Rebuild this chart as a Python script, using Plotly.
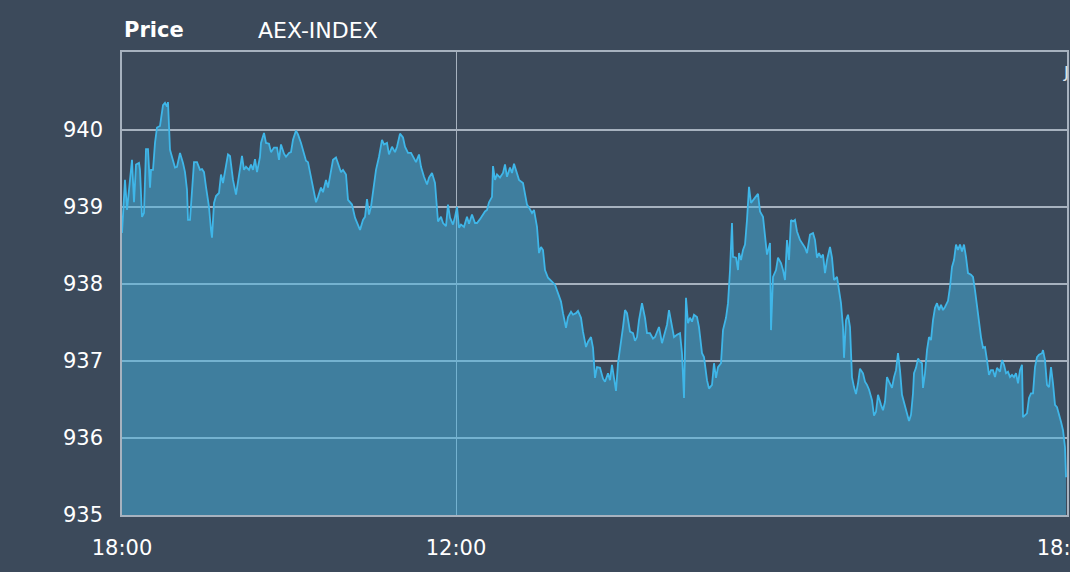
import plotly.graph_objects as go

# sample positions along the time axis (session units) and AEX-INDEX prices
t = [0, 2, 3, 5, 8, 10, 12, 14, 17, 18, 20, 22, 24, 26, 28, 29, 31, 33, 35, 38, 41, 43, 45, 46,
     48, 51, 53, 55, 58, 61, 63, 65, 66, 68, 70, 72, 75, 78, 80, 82, 84, 87, 89, 90, 92, 94, 97,
     99, 101, 103, 106, 108, 111, 114, 117, 120, 122, 124, 127, 129, 131, 133, 135, 138, 139, 142,
     144, 147, 149, 152, 155, 157, 159, 162, 164, 167, 169, 171, 174, 176, 179, 181, 184, 186, 189,
     191, 194, 196, 199, 201, 204, 206, 209, 211, 214, 216, 219, 221, 224, 226, 230, 233, 235, 238,
     241, 243, 245, 247, 249, 251, 254, 257, 260, 262, 265, 267, 270, 273, 275, 278, 281, 283, 286,
     289, 291, 294, 297, 299, 302, 305, 307, 310, 313, 315, 316, 319, 321, 324, 326, 328, 331, 333,
     335, 337, 339, 342, 345, 347, 350, 353, 355, 358, 361, 363, 365, 367, 370, 371, 373, 375, 378,
     381, 383, 385, 388, 390, 392, 395, 397, 401, 403, 405, 407, 410, 412, 415, 417, 419, 421, 423,
     426, 430, 433, 436, 439, 441, 444, 446, 449, 451, 454, 456, 459, 461, 464, 466, 469, 471, 473,
     475, 478, 481, 483, 486, 488, 490, 492, 494, 496, 498, 501, 503, 505, 508, 511, 513, 515, 517,
     520, 523, 525, 528, 531, 533, 535, 537, 540, 542, 545, 547, 550, 552, 555, 558, 560, 562, 564,
     566, 568, 570, 572, 575, 577, 580, 582, 585, 587, 590, 592, 594, 596, 599, 601, 604, 606, 608,
     610, 611, 614, 616, 617, 619, 621, 623, 625, 627, 629, 631, 633, 636, 638, 641, 643, 645, 648,
     649, 651, 654, 656, 659, 661, 663, 665, 667, 669, 671, 673, 675, 678, 681, 683, 685, 688, 691,
     693, 695, 697, 699, 701, 703, 705, 708, 710, 712, 715, 717, 719, 721, 722, 724, 726, 728, 730,
     732, 734, 736, 738, 741, 743, 745, 747, 750, 752, 754, 756, 759, 761, 763, 765, 767, 770, 772,
     774, 776, 778, 780, 782, 785, 787, 789, 791, 792, 794, 796, 798, 800, 801, 803, 805, 807, 809,
     811, 813, 815, 817, 819, 821, 823, 826, 828, 830, 832, 834, 836, 838, 840, 842, 844, 846, 849,
     851, 853, 855, 857, 859, 861, 863, 865, 867, 869, 871, 873, 875, 878, 880, 882, 884, 886, 888,
     890, 892, 894, 896, 898, 900, 901, 903, 905, 907, 909, 911, 913, 915, 917, 920, 921, 923, 925,
     927, 929, 931, 933, 935, 937, 939, 941, 943, 944]

price = [938.66, 939.13, 939.35, 938.96, 939.39, 939.61, 939.06, 939.55, 939.57, 939.48, 938.87,
         938.92, 939.75, 939.75, 939.25, 939.48, 939.48, 939.83, 940.03, 940.05, 940.32, 940.35,
         940.30, 940.36, 939.74, 939.61, 939.51, 939.52, 939.70, 939.57, 939.45, 939.22, 938.83,
         938.83, 939.22, 939.58, 939.58, 939.48, 939.49, 939.45, 939.26, 939.00, 938.70, 938.60,
         939.05, 939.14, 939.18, 939.42, 939.31, 939.44, 939.68, 939.66, 939.35, 939.16, 939.39,
         939.66, 939.48, 939.52, 939.48, 939.55, 939.48, 939.62, 939.45, 939.65, 939.83, 939.96,
         939.83, 939.82, 939.71, 939.77, 939.77, 939.61, 939.81, 939.69, 939.65, 939.70, 939.71,
         939.87, 939.99, 939.94, 939.83, 939.75, 939.60, 939.58, 939.38, 939.22, 939.06, 939.13,
         939.25, 939.19, 939.35, 939.25, 939.44, 939.61, 939.64, 939.57, 939.45, 939.48, 939.42,
         939.09, 939.03, 938.86, 938.79, 938.70, 938.83, 938.87, 939.10, 938.90, 939.00, 939.18,
         939.48, 939.65, 939.87, 939.81, 939.83, 939.68, 939.78, 939.71, 939.78, 939.95, 939.90,
         939.78, 939.70, 939.70, 939.65, 939.58, 939.68, 939.52, 939.39, 939.29, 939.38, 939.44,
         939.31, 939.00, 938.81, 938.87, 938.79, 938.75, 939.03, 938.86, 938.77, 938.87, 939.00,
         938.73, 938.77, 938.74, 938.87, 938.78, 938.90, 938.79, 938.79, 938.84, 938.90, 938.94,
         938.96, 939.06, 939.13, 939.53, 939.35, 939.42, 939.38, 939.44, 939.55, 939.39, 939.51,
         939.44, 939.56, 939.44, 939.35, 939.31, 939.19, 939.03, 938.99, 938.92, 938.96, 938.74,
         938.40, 938.48, 938.44, 938.18, 938.08, 938.03, 937.99, 937.88, 937.77, 937.62, 937.43,
         937.57, 937.64, 937.60, 937.62, 937.65, 937.56, 937.38, 937.18, 937.25, 937.31, 937.17,
         936.78, 936.92, 936.91, 936.77, 936.73, 936.84, 936.75, 936.95, 936.75, 936.61, 936.97,
         937.14, 937.44, 937.66, 937.62, 937.38, 937.36, 937.26, 937.31, 937.53, 937.75, 937.56,
         937.36, 937.36, 937.29, 937.31, 937.38, 937.44, 937.23, 937.34, 937.47, 937.66, 937.47,
         937.31, 937.34, 937.36, 937.10, 936.52, 937.82, 937.49, 937.56, 937.51, 937.60, 937.57,
         937.44, 937.10, 937.05, 936.75, 936.64, 936.69, 936.97, 936.78, 936.92, 936.97, 937.40,
         937.56, 937.75, 938.18, 938.79, 938.35, 938.34, 938.18, 938.40, 938.31, 938.44, 938.51,
         938.83, 939.26, 939.05, 939.09, 939.12, 939.17, 938.94, 938.87, 938.66, 938.38, 938.53,
         937.40, 938.09, 938.18, 938.34, 938.27, 938.18, 938.05, 938.57, 938.31, 938.83, 938.81,
         938.83, 938.68, 938.57, 938.51, 938.47, 938.40, 938.64, 938.66, 938.57, 938.34, 938.40,
         938.34, 938.38, 938.14, 938.31, 938.48, 938.34, 938.05, 938.09, 937.92, 937.75, 937.44,
         937.04, 937.53, 937.60, 937.44, 936.79, 936.66, 936.57, 936.71, 936.90, 936.84, 936.73,
         936.69, 936.63, 936.49, 936.29, 936.34, 936.56, 936.43, 936.36, 936.47, 936.79, 936.73,
         936.65, 936.79, 936.88, 937.10, 936.88, 936.56, 936.47, 936.32, 936.22, 936.30, 936.58,
         936.84, 936.91, 937.03, 936.99, 936.97, 936.65, 936.84, 937.14, 937.31, 937.27, 937.53,
         937.69, 937.75, 937.66, 937.73, 937.66, 937.70, 937.78, 937.96, 938.22, 938.31, 938.51,
         938.44, 938.51, 938.42, 938.51, 938.35, 938.14, 938.12, 938.09, 937.92, 937.69, 937.53,
         937.31, 937.17, 937.18, 937.01, 936.82, 936.88, 936.88, 936.79, 936.91, 936.86, 937.01,
         936.95, 936.84, 936.86, 936.79, 936.82, 936.79, 936.84, 936.71, 936.88, 936.95, 936.27,
         936.30, 936.32, 936.52, 936.58, 936.58, 936.92, 937.05, 937.08, 937.10, 937.14, 937.01,
         936.69, 936.66, 936.92, 936.71, 936.43, 936.40, 936.32, 936.21, 936.10, 935.88, 935.49]

x_tick_pos = [0, 334, 945]
x_tick_text = ["18:00", "12:00", "18:00"]
y_ticks = [935, 936, 937, 938, 939, 940]
y_range = [935, 941.01]

n = min(len(t), len(price))
t = t[:n]
price = price[:n]

BG = "#3c4a5b"
GRID = "#a7b2bf"
FONT = "DejaVu Sans, Verdana, sans-serif"

fig = go.Figure()
fig.add_trace(go.Scatter(
    x=t, y=price, mode="lines", fill="tozeroy",
    line=dict(color="#3fb6e8", width=1.8),
    fillcolor="rgba(66,178,226,0.50)",
    hoverinfo="skip", showlegend=False,
))

fig.update_layout(
    width=1070, height=572,
    paper_bgcolor=BG, plot_bgcolor=BG,
    margin=dict(l=122, r=3, t=52, b=57, autoexpand=False),
    font=dict(family=FONT, color="#ffffff", size=21),
    xaxis=dict(
        range=[x_tick_pos[0], x_tick_pos[-1]],
        tickmode="array", tickvals=x_tick_pos, ticktext=x_tick_text,
        showgrid=True, gridcolor=GRID, gridwidth=1,
        showline=True, linecolor=GRID, linewidth=1.5, mirror=True,
        zeroline=False, ticks="", ticklabelstandoff=13,
        ticklabeloverflow="allow", automargin=False,
        tickfont=dict(size=21, color="#ffffff", family=FONT),
    ),
    yaxis=dict(
        range=y_range,
        tickmode="array", tickvals=y_ticks,
        showgrid=True, gridcolor=GRID, gridwidth=1.5,
        showline=True, linecolor=GRID, linewidth=1.5, mirror=True,
        zeroline=False, ticks="", ticklabelstandoff=13, automargin=False,
        tickfont=dict(size=21, color="#ffffff", family=FONT),
    ),
    annotations=[
        dict(text="<b>Price</b>", xref="paper", yref="paper", x=0.0, y=1.047,
             xanchor="left", yanchor="middle", showarrow=False,
             font=dict(size=21, color="#ffffff", family=FONT)),
        dict(text="AEX-INDEX", xref="paper", yref="paper", x=0.1418, y=1.047,
             xanchor="left", yanchor="middle", showarrow=False,
             font=dict(size=22, color="#ffffff", family=FONT)),
        dict(text="J", xref="paper", yref="paper", x=0.9937, y=0.955,
             xanchor="left", yanchor="middle", showarrow=False,
             font=dict(size=16, color="#dfe6ee", family=FONT)),
    ],
)

fig.write_html(
    "out.html",
    config={"displayModeBar": False},
    post_script=("document.body.style.margin='0';"
                 "document.body.style.background='" + BG + "';"
                 "document.body.style.overflow='hidden';"),
)
